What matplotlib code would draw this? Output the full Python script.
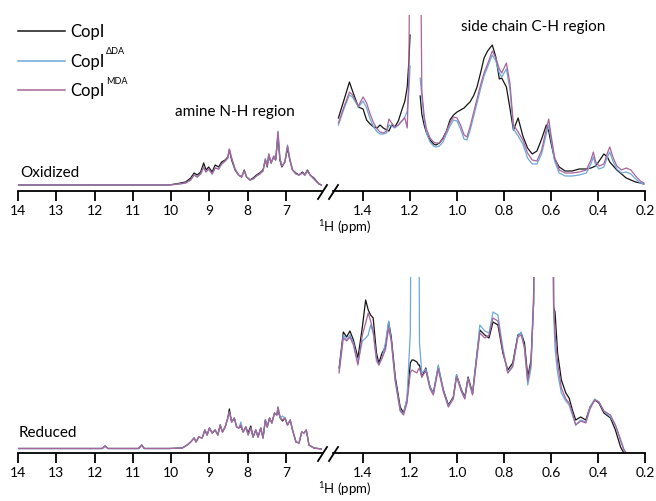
import numpy as np
import matplotlib
matplotlib.use('Agg')
import matplotlib.pyplot as plt
from matplotlib.lines import Line2D

plt.rcParams['font.family'] = ['Lato', 'DejaVu Sans']
plt.rcParams['mathtext.fontset'] = 'custom'
plt.rcParams['mathtext.rm'] = 'Lato'

W, H = 656, 501

# colours for the three samples
c_copi = '#151515'
c_dda = '#6fa8dc'
c_mda = '#a8659b'

# ---------------- oxidized, amide N-H part (ppm 14 -> 6) ----------------
ox_l_ppm = [14.0, 12.5, 11.0, 10.05, 9.79, 9.62, 9.49, 9.40, 9.32, 9.23, 9.15, 9.09, 9.02, 8.93,
            8.85, 8.76, 8.68, 8.59, 8.52, 8.48, 8.42, 8.33, 8.24, 8.16, 8.09, 8.03, 7.94, 7.86,
            7.77, 7.69, 7.60, 7.54, 7.49, 7.45, 7.39, 7.32, 7.27, 7.21, 7.16, 7.11, 7.03, 6.96,
            6.90, 6.83, 6.74, 6.66, 6.57, 6.51, 6.44, 6.37, 6.27, 6.14, 6.07]
ox_l_copi = [6, 6, 6, 6, 7.7, 9, 13, 18, 16, 19, 28, 21, 24, 19, 26, 24, 29, 31, 34, 41, 31, 21,
             16, 14, 21, 14, 11, 13, 16, 18, 21, 31, 24, 36, 28, 34, 31, 55, 31, 24, 29, 43, 31,
             21, 18, 16, 19, 16, 21, 16, 13, 7, 6]
ox_l_dda = [6, 6, 6, 6, 7, 8, 11, 16, 14, 17, 24, 19, 22, 17, 23, 22, 27, 30, 33, 42, 33, 22,
            16, 14, 20, 14, 11, 12, 15, 17, 20, 32, 25, 37, 28, 35, 31, 60, 33, 25, 29, 46, 32,
            21, 17, 16, 18, 16, 20, 16, 12, 7, 6]
ox_l_mda = [6, 6, 6, 6, 7, 8, 11, 16, 14, 17, 24, 19, 22, 17, 23, 22, 27, 30, 33, 42, 33, 22,
            16, 14, 20, 14, 11, 12, 15, 17, 20, 32, 25, 37, 28, 35, 31, 59, 33, 25, 29, 45, 32,
            21, 17, 16, 18, 16, 20, 16, 12, 7, 6]

# ---------------- oxidized, side chain part (ppm 1.5 -> 0.2) ----------------
ox_r_ppm = [1.505, 1.48, 1.458, 1.445, 1.42, 1.40, 1.385, 1.37, 1.355, 1.34, 1.328, 1.314, 1.30,
            1.29, 1.278, 1.265, 1.25, 1.235, 1.222, 1.212, 1.205, 1.200, 1.18, 1.157, 1.15, 1.14,
            1.13, 1.115, 1.10, 1.09, 1.075, 1.06, 1.045, 1.03, 1.015, 1.0, 0.985, 0.97, 0.958,
            0.945, 0.93, 0.915, 0.90, 0.885, 0.87, 0.85, 0.835, 0.82, 0.81, 0.79, 0.775, 0.76,
            0.74, 0.72, 0.70, 0.68, 0.66, 0.64, 0.62, 0.61, 0.60, 0.585, 0.565, 0.54, 0.51, 0.48,
            0.45, 0.43, 0.42, 0.41, 0.395, 0.375, 0.36, 0.35, 0.335, 0.32, 0.30, 0.28, 0.26, 0.24,
            0.22, 0.205]
ox_r_copi = [73, 92, 109, 100, 84, 82, 71, 67, 64, 63, 66, 63, 61, 60, 66, 64, 70, 81, 90, 104,
             130, 156, np.nan, 95, 77, 66, 58, 51, 47, 46, 48, 53, 60, 71, 76, 79, 81, 83, 86, 89,
             95, 104, 118, 133, 140, 146, 134, 112, 113, 104, 83, 61, 73, 55, 43, 37, 40, 52, 66,
             60, 48, 32, 24, 20, 20, 22, 22, 23, 24, 25, 30, 37, 34, 29, 25, 21, 17, 13, 11, 9, 8, 7]
ox_r_dda = [66, 83, 96, 94, 84, 90, 83, 72, 64, 59, 57, 57, 58, 66, 65, 63, 66, 70, 74, 80, 100,
            125, np.nan, 113, 95, 72, 58, 49, 45, 44, 45, 49, 57, 65, 71, 70, 62, 52, 51, 60, 74,
            88, 102, 115, 124, 136, 130, 118, 114, 122, 102, 62, 55, 47, 33, 27, 27, 37, 57, 66,
            52, 30, 18, 15, 15, 16, 18, 27, 34, 26, 22, 24, 34, 39, 29, 22, 18, 19, 17, 12, 8, 7]
ox_r_mda = [68, 85, 99, 96, 85, 94, 88, 77, 68, 62, 59, 58, 60, 72, 68, 64, 66, 70, 73, 63, 120,
            300, np.nan, 300, 100, 75, 62, 53, 49, 48, 48, 52, 60, 68, 74, 73, 66, 56, 54, 64, 78,
            92, 106, 118, 127, 140, 133, 122, 118, 128, 108, 66, 59, 51, 38, 31, 30, 41, 62, 72,
            56, 34, 21, 18, 18, 19, 21, 31, 39, 29, 25, 27, 38, 44, 33, 25, 21, 23, 21, 15, 10, 8]

# ---------------- reduced, amide N-H part ----------------
red_l_ppm = [14.0, 12.5, 11.8, 11.73, 11.65, 10.85, 10.77, 10.7, 10.05, 9.71, 9.58, 9.49, 9.40,
             9.35, 9.28, 9.19, 9.12, 9.06, 9.00, 8.93, 8.85, 8.78, 8.72, 8.66, 8.59, 8.52, 8.48,
             8.42, 8.35, 8.29, 8.23, 8.18, 8.12, 8.05, 7.99, 7.92, 7.86, 7.79, 7.73, 7.66, 7.60,
             7.54, 7.49, 7.43, 7.37, 7.30, 7.24, 7.21, 7.15, 7.09, 7.03, 6.96, 6.89, 6.83, 6.74,
             6.66, 6.59, 6.53, 6.47, 6.40, 6.27, 6.07]
red_l_copi = [4.5, 4.5, 4.5, 7, 4.5, 4.5, 8, 4.5, 4.5, 5, 8, 11, 15, 11, 16, 15, 23, 18, 25, 20,
              23, 18, 28, 21, 26, 35, 44, 31, 35, 26, 25, 27, 21, 26, 20, 27, 16, 23, 16, 25, 15,
              33, 26, 35, 30, 40, 38, 43, 35, 32, 35, 28, 33, 23, 11, 10, 21, 20, 23, 8, 5, 4]
red_l_dda = [4.5, 4.5, 4.5, 7, 4.5, 4.5, 8, 4.5, 4.5, 5, 8, 11, 15, 11, 16, 15, 23, 18, 25, 20,
             23, 18, 28, 21, 26, 35, 41, 31, 35, 26, 25, 31, 21, 26, 18, 25, 16, 23, 16, 25, 15,
             33, 26, 35, 30, 40, 38, 46, 35, 37, 35, 28, 33, 23, 11, 10, 21, 20, 23, 8, 5, 4]
red_l_mda = [4.5, 4.5, 4.5, 7, 4.5, 4.5, 8, 4.5, 4.5, 5, 8, 11, 15, 11, 16, 15, 23, 18, 25, 20,
             23, 18, 28, 21, 26, 35, 41, 31, 35, 26, 25, 28, 21, 26, 18, 25, 16, 23, 16, 25, 15,
             33, 26, 35, 30, 40, 38, 46, 35, 33, 35, 28, 33, 23, 11, 10, 21, 20, 23, 8, 5, 4]

# ---------------- reduced, side chain part ----------------
red_r_ppm = [1.502, 1.484, 1.470, 1.456, 1.441, 1.422, 1.403, 1.389, 1.378, 1.368, 1.357, 1.343,
             1.333, 1.319, 1.305, 1.291, 1.280, 1.263, 1.242, 1.228, 1.213, 1.199, 1.192, 1.185,
             1.171, 1.164, 1.160, 1.150, 1.133, 1.115, 1.101, 1.080, 1.058, 1.037, 1.016, 1.002,
             0.981, 0.967, 0.953, 0.934, 0.917, 0.903, 0.882, 0.864, 0.847, 0.826, 0.805, 0.784,
             0.763, 0.741, 0.727, 0.713, 0.699, 0.685, 0.674, 0.667, 0.63, 0.594, 0.589, 0.583,
             0.572, 0.556, 0.537, 0.523, 0.509, 0.495, 0.474, 0.452, 0.434, 0.414, 0.396, 0.375,
             0.347, 0.326, 0.304, 0.290, 0.28]
red_r_copi = [85, 121, 116, 122, 113, 95, 126, 153, 143, 138, 135, 100, 90, 100, 106, 131, 116,
              76, 46, 40, 53, 90, 93, 93, 91, 88, 88, 76, 85, 66, 60, 86, 63, 48, 56, 78, 63, 56,
              76, 60, 96, 123, 118, 115, 131, 128, 100, 83, 90, 118, 120, 110, 76, 93, 150, 400,
              400, 400, 146, 141, 100, 73, 60, 55, 43, 33, 36, 33, 46, 53, 50, 40, 35, 23, 6, 0, np.nan]
red_r_dda = [82, 118, 113, 118, 110, 90, 112, 115, 118, 128, 120, 92, 88, 95, 110, 132, 112, 72,
             43, 39, 55, 120, 400, 400, 400, 400, 110, 80, 84, 66, 59, 88, 62, 47, 55, 78, 62, 55,
             75, 59, 95, 128, 122, 120, 141, 138, 105, 80, 86, 117, 121, 104, 68, 85, 150, 400,
             400, 400, 140, 105, 80, 60, 52, 48, 38, 28, 33, 31, 46, 54, 51, 42, 36, 28, 14, 4, 0]
red_r_mda = [80, 115, 112, 116, 108, 88, 118, 130, 140, 132, 122, 95, 88, 95, 103, 125, 112, 72,
             42, 38, 50, 80, 83, 82, 80, 84, 85, 76, 82, 64, 58, 84, 61, 46, 54, 76, 61, 54, 74,
             58, 92, 120, 115, 118, 135, 132, 102, 80, 87, 116, 118, 106, 72, 90, 160, 400, 400,
             400, 150, 120, 90, 65, 54, 50, 40, 28, 32, 30, 44, 53, 51, 42, 38, 28, 12, 3, 0]


def px_axes(x0, x1, yb, yt):
    return fig.add_axes([x0 / W, 1 - yb / H, (x1 - x0) / W, (yb - yt) / H])


def style_axis(ax, xlim, ticks, labels):
    ax.set_xlim(*xlim)
    ax.set_ylim(0, 176)
    for s in ['top', 'left', 'right']:
        ax.spines[s].set_visible(False)
    ax.spines['bottom'].set_linewidth(1.3)
    ax.set_yticks([])
    ax.set_xticks(ticks)
    ax.set_xticklabels(labels)
    ax.tick_params(axis='x', direction='out', length=7, width=1.3, labelsize=10, pad=3)
    ax.patch.set_alpha(0)


def draw(ax, ppm, copi, dda, mda):
    ax.plot(ppm, copi, color=c_copi, lw=0.9)
    ax.plot(ppm, dda, color=c_dda, lw=0.9)
    ax.plot(ppm, mda, color=c_mda, lw=0.9)


fig = plt.figure(figsize=(W / 100, H / 100), dpi=100)

left_ticks = [14, 13, 12, 11, 10, 9, 8, 7]
right_ticks = [1.4, 1.2, 1.0, 0.8, 0.6, 0.4, 0.2]
right_labels = ['1.4', '1.2', '1.0', '0.8', '0.6', '0.4', '0.2']

panels = [
    (191, 15, ox_l_ppm, ox_l_copi, ox_l_dda, ox_l_mda, ox_r_ppm, ox_r_copi, ox_r_dda, ox_r_mda),
    (453, 277, red_l_ppm, red_l_copi, red_l_dda, red_l_mda, red_r_ppm, red_r_copi, red_r_dda, red_r_mda),
]

for yb, yt, lp, lc, ld, lm, rp, rc, rd, rm in panels:
    axl = px_axes(18, 322, yb, yt)
    style_axis(axl, (14, 6.06), left_ticks, [str(t) for t in left_ticks])
    draw(axl, lp, lc, ld, lm)

    axr = px_axes(333, 645, yb, yt)
    style_axis(axr, (1.528, 0.2), right_ticks, right_labels)
    draw(axr, rp, rc, rd, rm)

    # axis break marks
    for x0 in (318, 329):
        fig.add_artist(Line2D([x0 / W, (x0 + 9) / W], [1 - (yb + 8) / H, 1 - (yb - 6) / H],
                              color='black', lw=1.3))

    fig.text(345 / W, 1 - (yb + 36) / H, '$^{1}$H (ppm)', ha='center', va='center', size=9.5)

fig.text(235 / W, 1 - 112 / H, 'amine N-H region', ha='center', va='center', size=11)
fig.text(533 / W, 1 - 27 / H, 'side chain C-H region', ha='center', va='center', size=11)
fig.text(20 / W, 1 - 173 / H, 'Oxidized', ha='left', va='center', size=11)
fig.text(19 / W, 1 - 433 / H, 'Reduced', ha='left', va='center', size=11)

# legend drawn by hand
leg = [(c_copi, ''), (c_dda, '\u0394DA'), (c_mda, 'MDA')]
for i, (col, sup) in enumerate(leg):
    y = 31 + 29.5 * i
    fig.add_artist(Line2D([18 / W, 65 / W], [1 - y / H, 1 - y / H], color=col, lw=1.1))
    t = fig.text(70 / W, 1 - (y + 1) / H, 'CopI', ha='left', va='center', size=12)
    if sup:
        fig.text(106 / W, 1 - (y - 9) / H, sup, ha='left', va='center', size=6.5,
                 family=['Lato', 'DejaVu Sans'])

fig.savefig('out.png', dpi=100)
